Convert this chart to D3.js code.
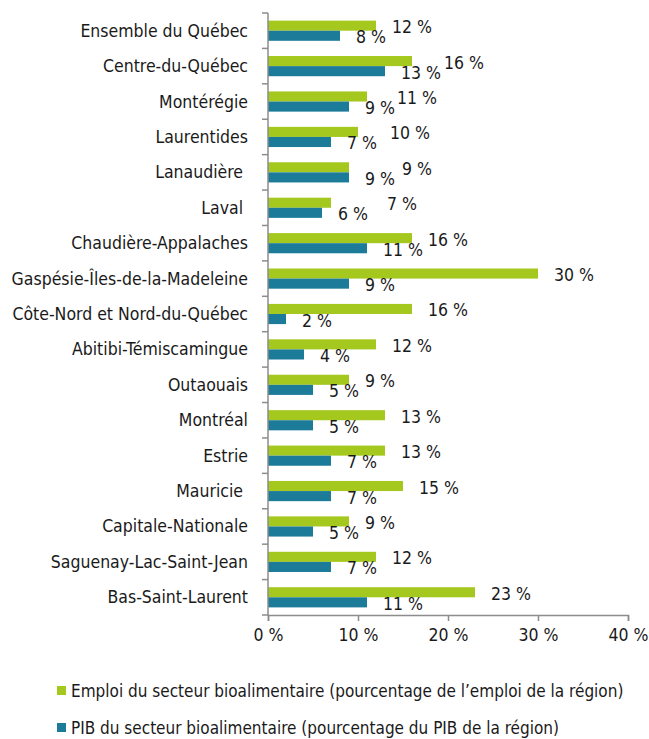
<!DOCTYPE html>
<html>
<head>
<meta charset="utf-8">
<script src="https://cdn.jsdelivr.net/npm/d3@7"></script>
<style>
  body { margin: 0; background: #fff; }
  svg text { font-family: "Liberation Sans Narrow", "Arial Narrow", "DejaVu Sans Condensed", sans-serif; fill: #1a1a1a; white-space: pre; }
</style>
</head>
<body>
<div id="chart"></div>
<script>
const regions = [
  "Ensemble du Québec", "Centre-du-Québec", "Montérégie", "Laurentides", "Lanaudière ",
  "Laval ", "Chaudière-Appalaches", "Gaspésie-Îles-de-la-Madeleine", "Côte-Nord et Nord-du-Québec",
  "Abitibi-Témiscamingue", "Outaouais", "Montréal", "Estrie", "Mauricie ",
  "Capitale-Nationale", "Saguenay-Lac-Saint-Jean", "Bas-Saint-Laurent"
]
const emploi = [12, 16, 11, 10, 9, 7, 16, 30, 16, 12, 9, 13, 13, 15, 9, 12, 23]
const pib    = [8, 13, 9, 7, 9, 6, 11, 9, 2, 4, 5, 5, 7, 7, 5, 7, 11]
const xTicks = [0, 10, 20, 30, 40]
const seriesNames = [
  "Emploi du secteur bioalimentaire (pourcentage de l\u2019emploi de la région)",
  "PIB du secteur bioalimentaire (pourcentage du PIB de la région)"
]
const colors = ["#a5c81f", "#1d7b9a"]
// some emploi labels were pushed right by hand to avoid the pib labels
const emploiLabelShift = [0, 16, 14, 16, 37, 40, 0, 0, 0, 0, 0, 0, 0, 0, 0, 0, 0]

const width = 649, height = 739
const margin = {top: 13, left: 268, right: 21, bottom: 124}

const svg = d3.select("#chart").append("svg")
  .attr("width", width)
  .attr("height", height)

const x = d3.scaleLinear()
  .domain([0, 40])
  .range([margin.left, width - margin.right])

const y = d3.scaleBand()
  .domain(regions)
  .range([margin.top, height - margin.bottom])
  .paddingInner(0.43)
  .paddingOuter(0.215)

const sub = d3.scaleBand()
  .domain([0, 1])
  .range([0, y.bandwidth()])

const rows = regions.map((r, i) => ({region: r, values: [emploi[i], pib[i]], shift: [emploiLabelShift[i], 0]}))

const g = svg.append("g")

// bars
const row = g.selectAll("g.row")
  .data(rows)
  .join("g")
  .attr("class", "row")
  .attr("transform", d => `translate(0,${y(d.region)})`)

row.selectAll("rect")
  .data(d => d.values.map((v, k) => ({v, k})))
  .join("rect")
  .attr("x", x(0))
  .attr("y", d => sub(d.k))
  .attr("width", d => x(d.v) - x(0))
  .attr("height", sub.bandwidth())
  .attr("fill", d => colors[d.k])

row.selectAll("text.val")
  .data(d => d.values.map((v, k) => ({v, k, s: d.shift[k]})))
  .join("text")
  .attr("class", "val")
  .attr("x", d => x(d.v) + 16 + d.s)
  .attr("y", d => sub(d.k) + sub.bandwidth() / 2 + 1.5)
  .attr("dominant-baseline", "central")
  .attr("font-size", 17.5)
  .text(d => `${d.v} %`)

// y axis (ticks on band edges)
const yAxisG = g.append("g")
yAxisG.append("line")
  .attr("x1", x(0)).attr("x2", x(0))
  .attr("y1", margin.top).attr("y2", height - margin.bottom)
  .attr("stroke", "#8c8c8c").attr("stroke-width", 1.5)
const step = y.step()
const edges = d3.range(regions.length + 1).map(i => margin.top + i * step)
yAxisG.selectAll("line.tick")
  .data(edges)
  .join("line")
  .attr("class", "tick")
  .attr("x1", x(0) - 6).attr("x2", x(0))
  .attr("y1", d => d).attr("y2", d => d)
  .attr("stroke", "#8c8c8c").attr("stroke-width", 1.5)
yAxisG.selectAll("text")
  .data(regions)
  .join("text")
  .attr("x", 248)
  .attr("y", d => margin.top + (regions.indexOf(d) + 0.5) * step)
  .attr("text-anchor", "end")
  .attr("dominant-baseline", "central")
  .attr("font-size", 17.5)
  .text(d => d)

// x axis
const xAxis = d3.axisBottom(x)
  .tickValues(xTicks)
  .tickSize(6)
  .tickPadding(8)
  .tickFormat(d => `${d} %`)

const xg = g.append("g")
  .attr("transform", `translate(0,${height - margin.bottom})`)
  .call(xAxis)
xg.select(".domain").attr("stroke", "#8c8c8c").attr("stroke-width", 1.5)
xg.selectAll(".tick line").attr("stroke", "#8c8c8c").attr("stroke-width", 1.5)
xg.selectAll(".tick text")
  .attr("font-size", 17.5)
  .attr("font-family", null)
  .attr("fill", "#1a1a1a")

// legend
const legend = svg.append("g")
  .selectAll("g")
  .data(seriesNames)
  .join("g")
  .attr("transform", (d, i) => `translate(57,${691 + i * 37})`)
legend.append("rect")
  .attr("x", 0).attr("y", -5)
  .attr("width", 9).attr("height", 9)
  .attr("fill", (d, i) => colors[i])
legend.append("text")
  .attr("x", 14)
  .attr("y", 0)
  .attr("dominant-baseline", "central")
  .attr("font-size", 17)
  .text(d => d)
</script>
</body>
</html>
